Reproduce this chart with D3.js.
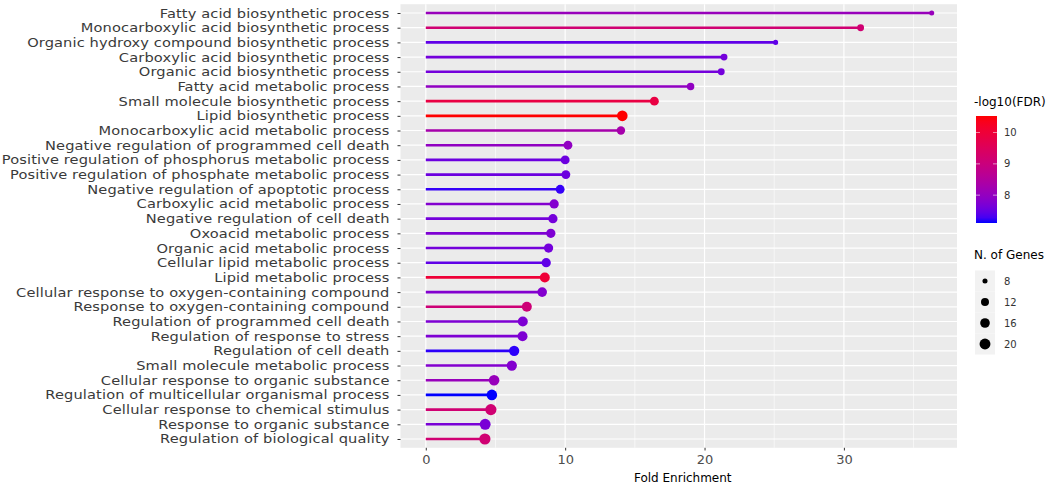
<!DOCTYPE html>
<html>
<head>
<meta charset="utf-8">
<script src="https://cdn.jsdelivr.net/npm/d3@7"></script>
<style>
  html, body { margin: 0; padding: 0; background: #ffffff; }
  svg { display: block; }
  text { font-family: "DejaVu Sans", sans-serif; }
</style>
</head>
<body>
<svg id="chart" width="1059" height="486"></svg>
<script>
// ---- data (top to bottom) ----
const pathways = [
  "Fatty acid biosynthetic process",
  "Monocarboxylic acid biosynthetic process",
  "Organic hydroxy compound biosynthetic process",
  "Carboxylic acid biosynthetic process",
  "Organic acid biosynthetic process",
  "Fatty acid metabolic process",
  "Small molecule biosynthetic process",
  "Lipid biosynthetic process",
  "Monocarboxylic acid metabolic process",
  "Negative regulation of programmed cell death",
  "Positive regulation of phosphorus metabolic process",
  "Positive regulation of phosphate metabolic process",
  "Negative regulation of apoptotic process",
  "Carboxylic acid metabolic process",
  "Negative regulation of cell death",
  "Oxoacid metabolic process",
  "Organic acid metabolic process",
  "Cellular lipid metabolic process",
  "Lipid metabolic process",
  "Cellular response to oxygen-containing compound",
  "Response to oxygen-containing compound",
  "Regulation of programmed cell death",
  "Regulation of response to stress",
  "Regulation of cell death",
  "Small molecule metabolic process",
  "Cellular response to organic substance",
  "Regulation of multicellular organismal process",
  "Cellular response to chemical stimulus",
  "Response to organic substance",
  "Regulation of biological quality"
];
const foldEnrichment = [36.3, 31.2, 25.1, 21.4, 21.2, 19.0, 16.4, 14.1, 14.0, 10.2,
  10.0, 10.05, 9.64, 9.21, 9.12, 8.97, 8.81, 8.64, 8.54, 8.35,
  7.25, 6.96, 6.94, 6.34, 6.17, 4.9, 4.74, 4.67, 4.26, 4.24];
const log10FDR = [8.07, 9.16, 7.45, 7.62, 7.62, 7.97, 9.85, 10.53, 8.3, 7.97,
  7.55, 7.55, 7.21, 7.79, 7.62, 7.73, 7.62, 7.45, 10.02, 7.79,
  9.09, 7.73, 7.73, 7.18, 7.79, 8.07, 7.11, 9.16, 7.69, 9.16];
const nGenes = [8, 10, 8, 10, 10, 11, 14, 19, 13, 14,
  14, 14, 14, 15, 15, 15, 15, 15, 17, 16,
  17, 17, 17, 18, 18, 19, 19, 21, 20, 21];
const xTicks = [0, 10, 20, 30];
const xMinor = [5, 15, 25, 35];
const colorTicks = [8, 9, 10];
const sizeTicks = [8, 12, 16, 20];

// ---- layout ----
const svg = d3.select("#chart");
const panel = { left: 400.5, right: 957, top: 4.2, bottom: 447.8 };

const xData = [0, d3.max(foldEnrichment)];
const xPad = (xData[1] - xData[0]) * 0.05;
const x = d3.scaleLinear().domain([xData[0] - xPad, xData[1] + xPad]).range([panel.left, panel.right]);

const y = d3.scalePoint().domain(pathways).range([panel.top, panel.bottom]).padding(0.6);

const cExtent = d3.extent(log10FDR);
const color = d3.scaleLinear().domain(cExtent).range(["blue", "red"]).interpolate(d3.interpolateLab);

const nExt = [7.5, 21];
const sizeT = d3.scaleLinear().domain(nExt).range([0, 1]).clamp(true);
const radius = n => 1.8 + 3.8 * Math.sqrt(sizeT(n));

const data = pathways.map((p, i) => ({ p, fe: foldEnrichment[i], c: log10FDR[i], n: nGenes[i] }));

// panel background
svg.append("rect")
  .attr("x", panel.left).attr("y", panel.top)
  .attr("width", panel.right - panel.left).attr("height", panel.bottom - panel.top)
  .attr("fill", "#EBEBEB");

// minor grid
svg.append("g").selectAll("line").data(xMinor).join("line")
  .attr("x1", d => x(d)).attr("x2", d => x(d))
  .attr("y1", panel.top).attr("y2", panel.bottom)
  .attr("stroke", "#ffffff").attr("stroke-width", 0.6);

// major grid
svg.append("g").selectAll("line").data(xTicks).join("line")
  .attr("x1", d => x(d)).attr("x2", d => x(d))
  .attr("y1", panel.top).attr("y2", panel.bottom)
  .attr("stroke", "#ffffff").attr("stroke-width", 1.2);
svg.append("g").selectAll("line").data(pathways).join("line")
  .attr("x1", panel.left).attr("x2", panel.right)
  .attr("y1", d => y(d)).attr("y2", d => y(d))
  .attr("stroke", "#ffffff").attr("stroke-width", 1.2);

// lollipop segments
svg.append("g").selectAll("line").data(data).join("line")
  .attr("x1", x(0)).attr("x2", d => x(d.fe))
  .attr("y1", d => y(d.p)).attr("y2", d => y(d.p))
  .attr("stroke", d => color(d.c)).attr("stroke-width", 2.6);

// points
svg.append("g").selectAll("circle").data(data).join("circle")
  .attr("cx", d => x(d.fe)).attr("cy", d => y(d.p))
  .attr("r", d => radius(d.n))
  .attr("fill", d => color(d.c));

// y axis
const tickLen = 3, tickPad = 8, stretch = 1.17;
const yAxis = d3.axisLeft(y).tickSize(tickLen).tickPadding(tickPad);
const gy = svg.append("g").attr("transform", `translate(${panel.left},0)`).call(yAxis);
gy.select(".domain").remove();
gy.selectAll(".tick line").attr("stroke", "#333333").attr("stroke-width", 1);
gy.selectAll(".tick text").attr("fill", "#3a3a3a")
  .attr("x", -(tickLen + tickPad) / stretch)
  .attr("transform", `scale(${stretch},1)`)
  .style("font-size", "12.5px").style("font-family", "DejaVu Sans").style("letter-spacing", "0.1px");

// x axis
const xAxis = d3.axisBottom(x).tickValues(xTicks).tickSize(2.7).tickPadding(4);
const gx = svg.append("g").attr("transform", `translate(0,${panel.bottom})`).call(xAxis);
gx.select(".domain").remove();
gx.selectAll(".tick line").attr("stroke", "#333333");
gx.selectAll(".tick text").attr("fill", "#4d4d4d").style("font-size", "13px").style("font-family", "DejaVu Sans");

svg.append("text")
  .attr("x", (panel.left + panel.right) / 2 + 4).attr("y", 482)
  .attr("text-anchor", "middle")
  .style("font-size", "12px").attr("fill", "#000")
  .text("Fold Enrichment");

// ---- colour legend ----
const lg = { x: 976, top: 116, bottom: 223, w: 21 };
svg.append("text").attr("x", 974).attr("y", 106).style("font-size", "12px").attr("fill", "#000").text("-log10(FDR)");
const defs = svg.append("defs");
const grad = defs.append("linearGradient").attr("id", "cgrad").attr("x1", 0).attr("y1", 1).attr("x2", 0).attr("y2", 0);
d3.range(0, 1.0001, 0.05).forEach(t => {
  grad.append("stop").attr("offset", t).attr("stop-color", color(cExtent[0] + t * (cExtent[1] - cExtent[0])));
});
svg.append("rect").attr("x", lg.x).attr("y", lg.top).attr("width", lg.w).attr("height", lg.bottom - lg.top).attr("fill", "url(#cgrad)");
const cy = d3.scaleLinear().domain(cExtent).range([lg.bottom, lg.top]);
const ct = svg.append("g").selectAll("g").data(colorTicks).join("g");
ct.append("line").attr("x1", lg.x).attr("x2", lg.x + 4).attr("y1", d => cy(d)).attr("y2", d => cy(d)).attr("stroke", "#fff").attr("stroke-width", 0.8).attr("opacity", 0.7);
ct.append("line").attr("x1", lg.x + lg.w - 4).attr("x2", lg.x + lg.w).attr("y1", d => cy(d)).attr("y2", d => cy(d)).attr("stroke", "#fff").attr("stroke-width", 0.8).attr("opacity", 0.7);
ct.append("text").attr("x", lg.x + lg.w + 7).attr("y", d => cy(d)).attr("dy", "0.35em")
  .style("font-size", "10px").attr("fill", "#333").text(d => d);

// ---- size legend ----
svg.append("text").attr("x", 974).attr("y", 259).style("font-size", "12px").attr("fill", "#000").text("N. of Genes");
const keyTop = 270.5, keyH = 21;
const sk = svg.append("g").selectAll("g").data(sizeTicks).join("g")
  .attr("transform", (d, i) => `translate(975,${keyTop + i * keyH})`);
sk.append("rect").attr("width", 20).attr("height", keyH).attr("fill", "#F2F2F2");
sk.append("circle").attr("cx", 10).attr("cy", keyH / 2).attr("r", d => radius(d)).attr("fill", "#000");
sk.append("text").attr("x", 29).attr("y", keyH / 2).attr("dy", "0.35em")
  .style("font-size", "10px").attr("fill", "#333").text(d => d);
</script>
</body>
</html>
